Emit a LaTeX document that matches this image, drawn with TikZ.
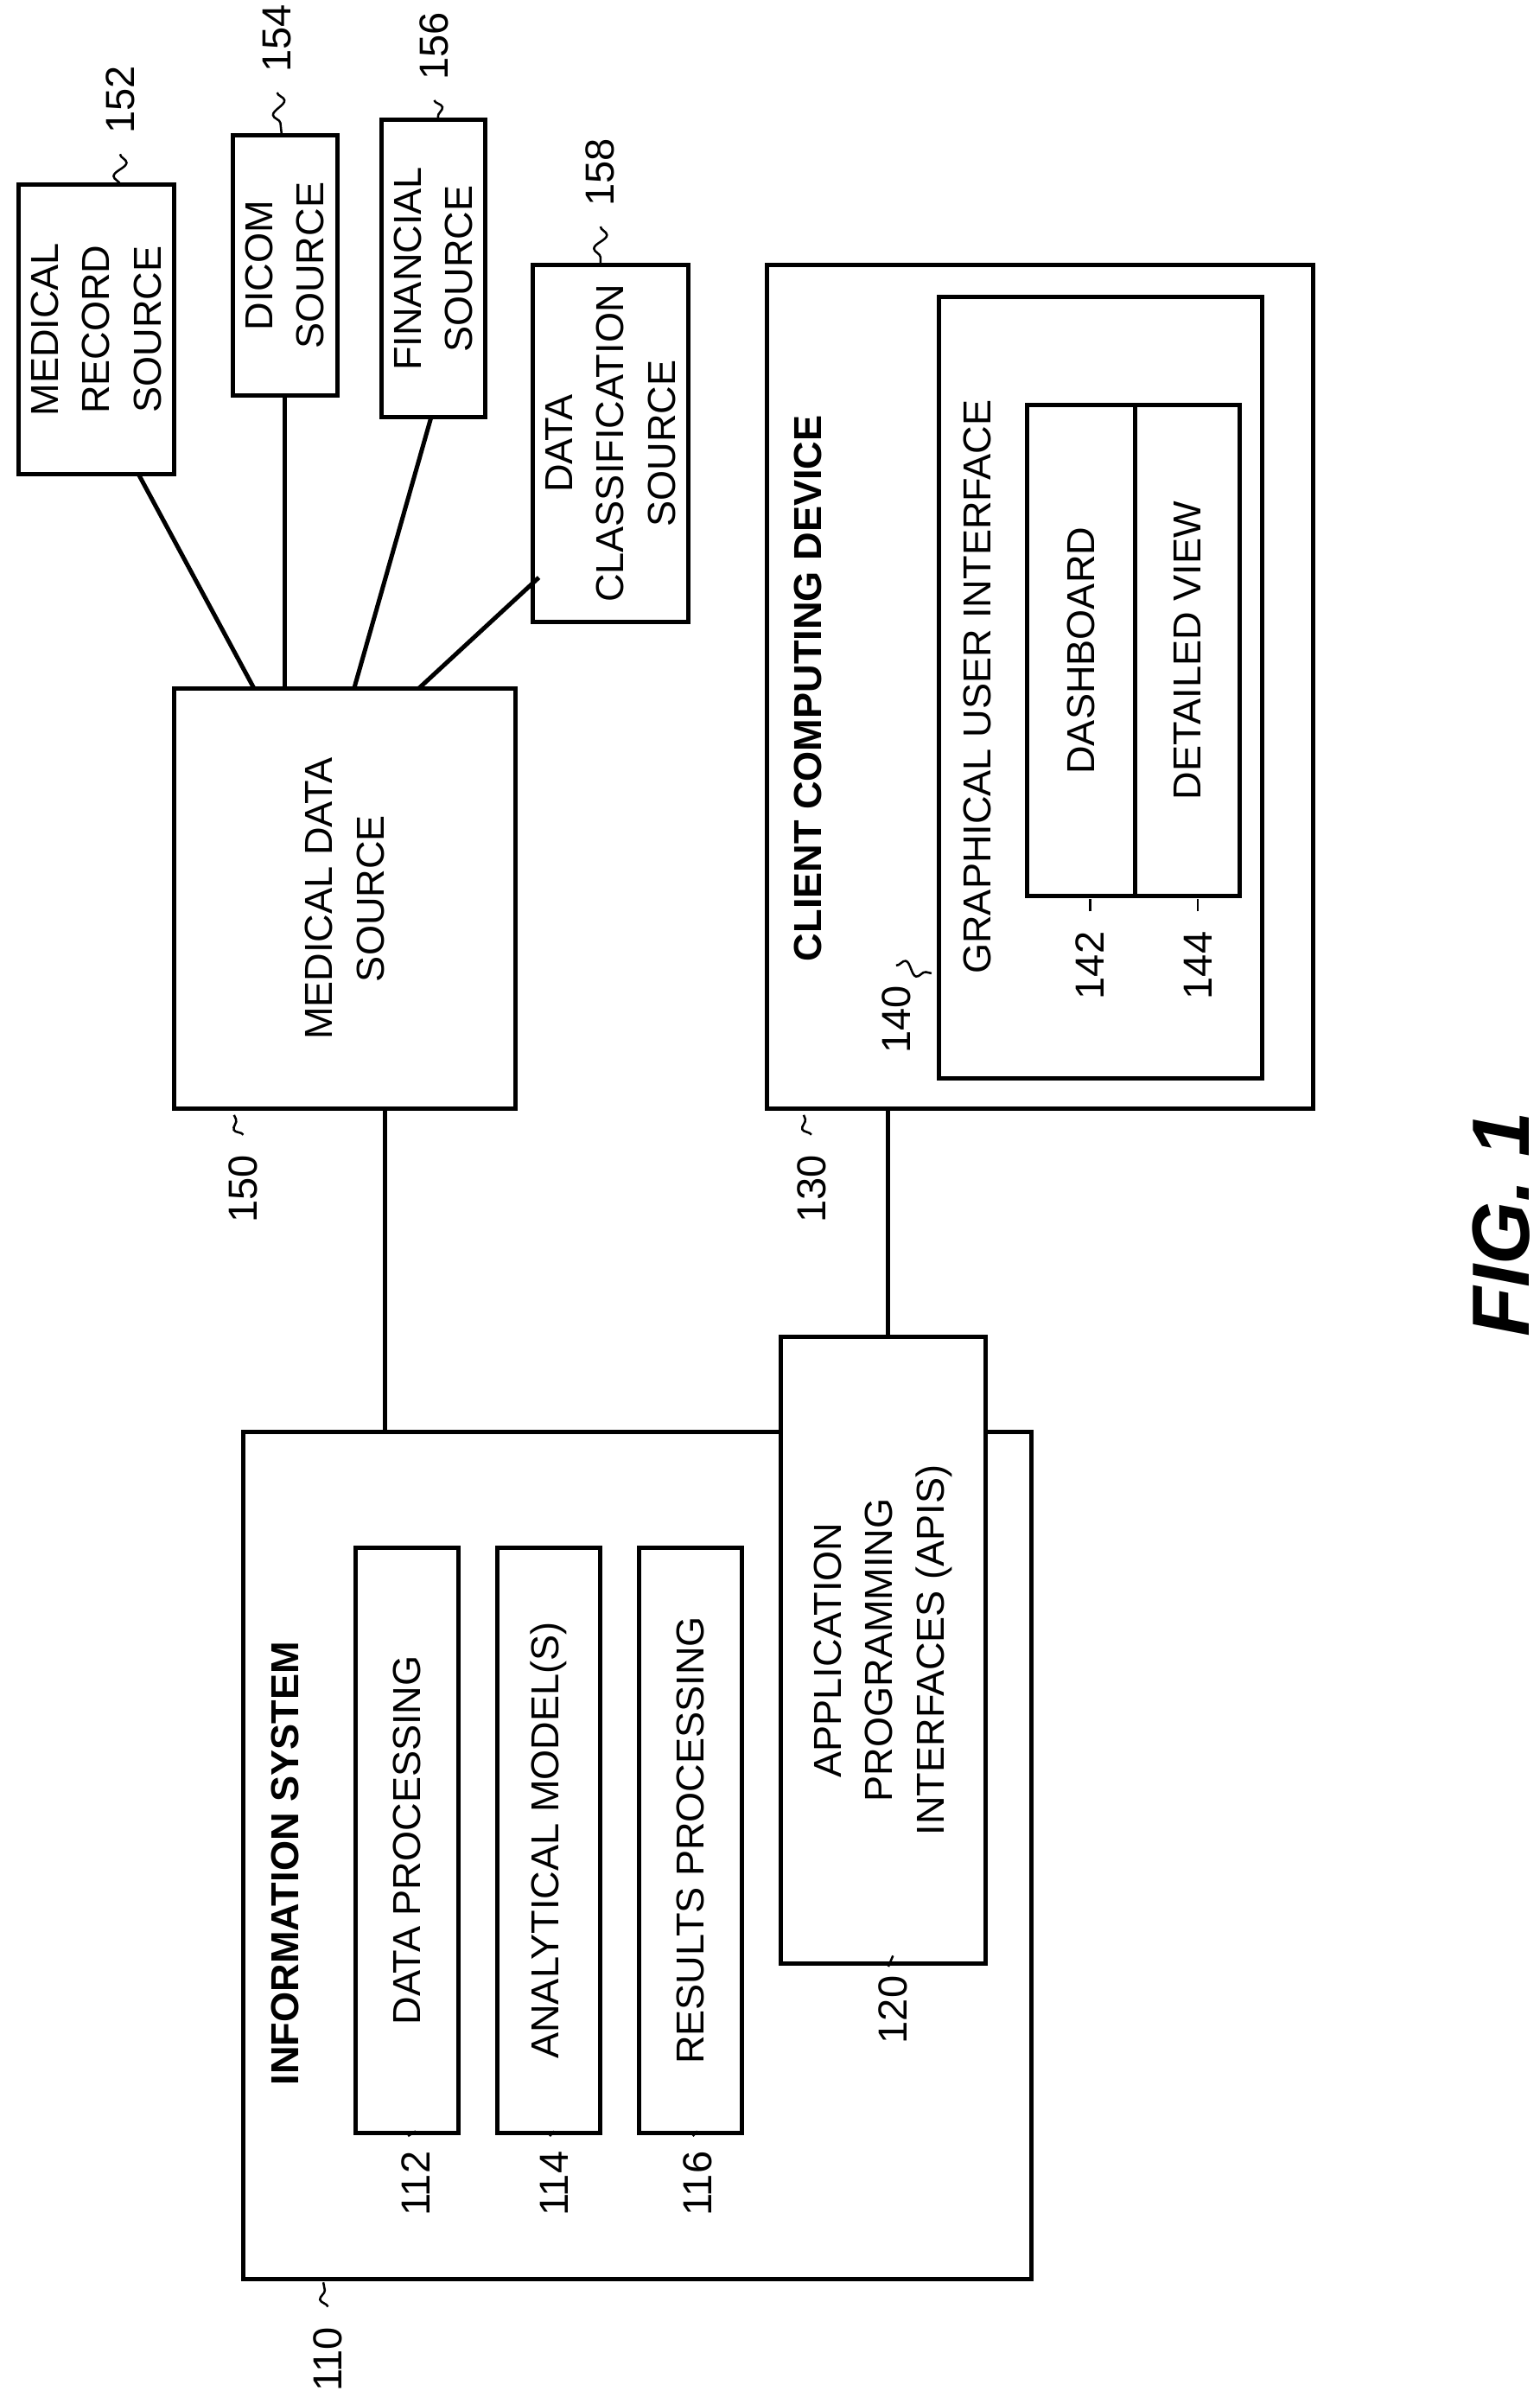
\documentclass[tikz,border=0pt]{standalone}
\usepackage{fontspec}
\setmainfont{Liberation Sans}
\usetikzlibrary{decorations.pathmorphing}
\tikzset{snake it/.style={decorate, decoration={snake, amplitude=1.2pt, segment length=5pt}}}
\tikzset{box/.style={draw, thick, rotate=90, align=center, fill=white, inner sep=0pt, font=\fontsize{7.2}{9.5}\selectfont}}
\tikzset{num/.style={rotate=90, font=\fontsize{7.5}{9}\selectfont}}
\tikzset{ttl/.style={rotate=90, font=\bfseries\fontsize{7.2}{9}\selectfont}}
\newcommand\bx[6]{\node[box, minimum width=#4*0.01cm, minimum height=#3*0.01cm] (#1) at (#2) {#5#6};}

\begin{document}
\begin{tikzpicture}[x=0.01cm, y=-0.01cm, thick]
	    \useasboundingbox (0,0) rectangle (1000,1561);
	    % information system
	    \bx{info}{414,1205}{512}{550}{}{}
	    \node[ttl] (infot) at (185,1210) {INFORMATION SYSTEM};
	    \bx{dp}{264.5,1195}{67}{380}{DATA PROCESSING}{}
	    \bx{am}{356.5,1195}{67}{380}{ANALYTICAL MODEL(S)}{}
	    \bx{rp}{448.5,1195}{67}{380}{RESULTS PROCESSING}{}
	    \bx{api}{573.5,1071.5}{133}{407}{APPLICATION\\PROGRAMMING\\INTERFACES (APIS)}{}
	    % client
	    \bx{ccd}{675.5,446}{355}{548}{}{}
	    \node[ttl] (ccdt) at (525,447) {CLIENT COMPUTING DEVICE};
	    \bx{gui}{715,446.5}{210}{507}{}{}
	    \node[num, font=\fontsize{7.2}{9}\selectfont] (guit) at (635,446) {GRAPHICAL USER INTERFACE};
	    \bx{dash}{702,422.5}{70}{319}{DASHBOARD}{}
	    \bx{dv}{771,422.5}{68}{319}{DETAILED VIEW}{}
	    % medical data sources
	    \bx{mds}{224,583.5}{222}{273}{MEDICAL DATA\\SOURCE}{}
	    \bx{mr}{62.5,214}{101}{188}{MEDICAL\\RECORD\\SOURCE}{}
	    \bx{dicom}{185,172.5}{68}{169}{DICOM\\SOURCE}{}
	    \bx{fin}{281.5,174.5}{67}{193}{FINANCIAL\\SOURCE}{}
	    \bx{dcs}{396.5,288}{101}{232}{DATA\\CLASSIFICATION\\SOURCE}{}

	    \coordinate (m1) at (250,720); \coordinate (i1) at (250,930);
	    \coordinate (c1) at (577,720); \coordinate (a1) at (577,868);
	    \draw (m1) -- (i1);
	    \draw (c1) -- (a1);
	    \draw (90,308) -- (165,447);
	    \draw (dicom.west) -- (185,447);
	    \draw (280,271) -- (230,447);
	    \draw (350,375) -- (272,447);

	    % reference numerals
	    \foreach \t/\x/\y/\ex/\ey in {110/213/1532/210/1482, 112/270/1418/265/1387, 114/360/1418/357/1387, 116/453/1418/450/1387,
	      120/580/1305/577/1277, 130/527/772/522/724, 140/582/662/605/632, 142/708/627/708/584, 144/778/627/778/584,
	      150/158/772/152/724}
	      {\node[num] (n\t) at (\x,\y) {\t};
	       \draw[thin, snake it] (n\t.east) -- (\ex,\ey);}
	    \foreach \t/\x/\y/\ex/\ey in {152/78/65/78/120, 154/180/25/183/88, 156/282/30/285/78, 158/390/112/390/172}
	      {\node[num] (n\t) at (\x,\y) {\t};
	       \draw[thin, snake it] (n\t.west) -- (\ex,\ey);}

	    \node[rotate=90, font=\bfseries\itshape\fontsize{15}{18}\selectfont] (fig) at (975,795) {FIG. 1};
	\end{tikzpicture}
\end{document}
